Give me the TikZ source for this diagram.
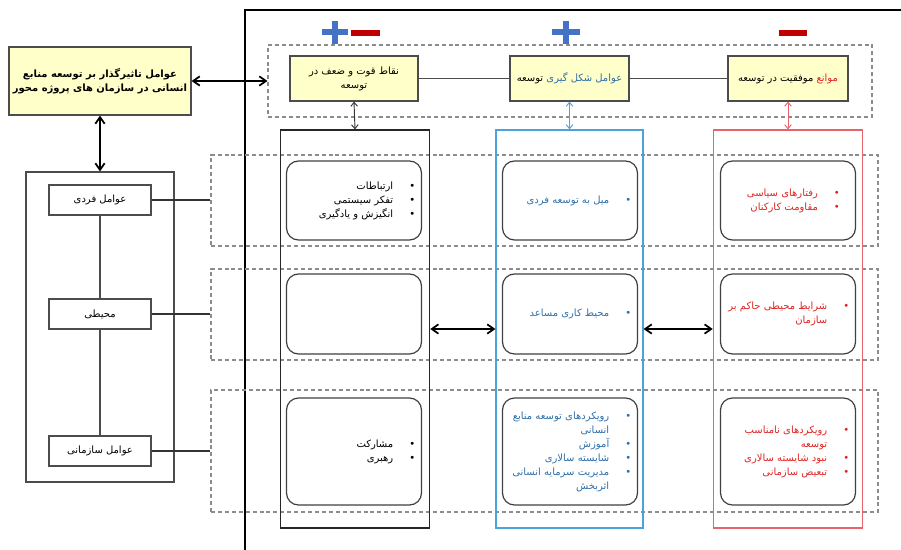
\documentclass[tikz,border=0pt]{standalone}
\usepackage{fontspec}
\newfontfamily\farsi[Script=Arabic]{DejaVu Sans}
\TeXXeTstate=1
\usetikzlibrary{arrows.meta}

\definecolor{boxyellow}{HTML}{FFFFC9}
\definecolor{faBlue}{HTML}{2F6FA8}
\definecolor{faRed}{HTML}{E02424}
\definecolor{colBlue}{HTML}{4BA3DC}
\definecolor{colRed}{HTML}{E8646C}
\definecolor{signBlue}{HTML}{4472C4}
\definecolor{signRed}{HTML}{C00000}
\definecolor{dashGrey}{HTML}{8C8C8C}

\newcommand{\fa}[1]{\beginR#1\endR}

\tikzstyle{topbox} = [draw=black!70, fill=boxyellow, line width=0.9pt,
    rectangle, minimum height=33.75pt, align=center, inner sep=2pt]
\tikzstyle{groupband} = [draw=dashGrey, line width=0.8pt,
    dash pattern=on 3pt off 2.2pt, rectangle]
\tikzstyle{colbox} = [line width=0.9pt, rectangle,
    minimum width=112pt, minimum height=298.5pt]
\tikzstyle{itembox} = [draw=black!75, line width=0.9pt, rectangle,
    rounded corners=9pt, minimum width=101.25pt]
\tikzstyle{factbox} = [draw=black!70, line width=0.9pt, rectangle,
    minimum width=76.5pt, minimum height=22.5pt]
\tikzstyle{itemlist} = [anchor=east, inner sep=0pt]
\tikzstyle{dbl} = [{Straight Barb[length=5pt,width=7pt]}-{Straight Barb[length=5pt,width=7pt]}]
\tikzstyle{thindbl} = [{Straight Barb[length=3pt,width=5pt]}-{Straight Barb[length=3pt,width=5pt]}]

\begin{document}
\begin{tikzpicture}[x=0.75pt, y=-0.75pt,
    every node/.style={font=\farsi\fontsize{7.5}{10.5}\selectfont}]
\useasboundingbox (0,0) rectangle (901,550);

% frame
\draw[line width=0.9pt] (245,550) -- (245,10) -- (901,10);

%------------ Kopfzeile ---------------------
\node[groupband, minimum width=453pt, minimum height=54pt] (topGroup) at (570,81) {};
\node[topbox, minimum width=96pt] (tStrength) at (354,78.5)
    {\fa{نقاط قوت و ضعف در}\\ \fa{توسعه}};
\node[topbox, minimum width=89.25pt] (tForm) at (569.5,78.5)
    {\fa{توسعه}\ {\color{faBlue}\fa{عوامل شکل گیری}}};
\node[topbox, minimum width=90pt] (tBarrier) at (788,78.5)
    {\fa{موفقیت در توسعه}\ {\color{faRed}\fa{موانع}}};
\draw[black!70, line width=0.9pt] (tStrength) -- (tForm);
\draw[black!70, line width=0.9pt] (tForm) -- (tBarrier);

% plus / minus
\draw[signBlue, line width=3.8pt] (322,32) -- (348,32) (335,21) -- (335,44);
\draw[signRed, line width=4.5pt] (351,33) -- (380,33);
\draw[signBlue, line width=3.8pt] (552,32) -- (580,32) (566,21) -- (566,44);
\draw[signRed, line width=4.5pt] (779,33) -- (807,33);

%------------ Zeilen ---------------------
\node[groupband, minimum width=500.25pt, minimum height=68.25pt] (rowIndiv) at (544.5,200.5) {};
\node[groupband, minimum width=500.25pt, minimum height=68.25pt] (rowEnv) at (544.5,314.5) {};
\node[groupband, minimum width=500.25pt, minimum height=91.5pt] (rowOrg) at (544.5,451) {};

%------------ Spalten ---------------------
\node[colbox, draw=black!85] (cStrength) at (355,329) {};
\node[colbox, draw=colBlue, minimum width=110.25pt] (cForm) at (569.5,329) {};
\node[colbox, draw=colRed] (cBarrier) at (788,329) {};
\draw[thindbl, black!80, line width=0.7pt] (tStrength.south) -- (cStrength.north);
\draw[thindbl, colBlue, line width=0.7pt] (tForm.south) -- (cForm.north);
\draw[thindbl, colRed, line width=0.7pt] (tBarrier.south) -- (cBarrier.north);

% Staerken / Schwaechen
\node[itembox, minimum height=59.25pt] (sIndiv) at (354,200.5) {};
\node[itembox, minimum height=60pt] (sEnv) at (354,314) {};
\node[itembox, minimum height=80.25pt] (sOrg) at (354,451.5) {};
\node[itemlist] (sIndivTxt) at ([xshift=-5pt]sIndiv.east)
    {\begin{tabular}{@{}r@{\hspace{12pt}}c@{}}
     \fa{ارتباطات} & \textbullet\\
     \fa{تفکر سیستمی} & \textbullet\\
     \fa{انگیزش و یادگیری} & \textbullet
     \end{tabular}};
\node[itemlist] (sOrgTxt) at ([xshift=-5pt]sOrg.east)
    {\begin{tabular}{@{}r@{\hspace{12pt}}c@{}}
     \fa{مشارکت} & \textbullet\\
     \fa{رهبری} & \textbullet
     \end{tabular}};

% Entstehungsfaktoren
\node[itembox, minimum height=59.25pt] (fIndiv) at (570,200.5) {};
\node[itembox, minimum height=60pt] (fEnv) at (570,314) {};
\node[itembox, minimum height=80.25pt] (fOrg) at (570,451.5) {};
\node[itemlist, text=faBlue] (fIndivTxt) at ([xshift=-5pt]fIndiv.east)
    {\begin{tabular}{@{}r@{\hspace{12pt}}c@{}}
     \fa{میل به توسعه فردی} & \textbullet
     \end{tabular}};
\node[itemlist, text=faBlue] (fEnvTxt) at ([xshift=-5pt]fEnv.east)
    {\begin{tabular}{@{}r@{\hspace{12pt}}c@{}}
     \fa{محیط کاری مساعد} & \textbullet
     \end{tabular}};
\node[itemlist, text=faBlue] (fOrgTxt) at ([xshift=-5pt]fOrg.east)
    {\begin{tabular}{@{}r@{\hspace{12pt}}c@{}}
     \fa{رویکردهای توسعه منابع} & \textbullet\\
     \fa{انسانی} & \\
     \fa{آموزش} & \textbullet\\
     \fa{شایسته سالاری} & \textbullet\\
     \fa{مدیریت سرمایه انسانی} & \textbullet\\
     \fa{اثربخش} &
     \end{tabular}};

% Hindernisse
\node[itembox, minimum height=59.25pt] (bIndiv) at (788,200.5) {};
\node[itembox, minimum height=60pt] (bEnv) at (788,314) {};
\node[itembox, minimum height=80.25pt] (bOrg) at (788,451.5) {};
\node[itemlist, text=faRed] (bIndivTxt) at ([xshift=-12pt]bIndiv.east)
    {\begin{tabular}{@{}r@{\hspace{12pt}}c@{}}
     \fa{رفتارهای سیاسی} & \textbullet\\
     \fa{مقاومت کارکنان} & \textbullet
     \end{tabular}};
\node[itemlist, text=faRed] (bEnvTxt) at ([xshift=-5pt]bEnv.east)
    {\begin{tabular}{@{}r@{\hspace{12pt}}c@{}}
     \fa{شرایط محیطی حاکم بر} & \textbullet\\
     \fa{سازمان} &
     \end{tabular}};
\node[itemlist, text=faRed] (bOrgTxt) at ([xshift=-5pt]bOrg.east)
    {\begin{tabular}{@{}r@{\hspace{12pt}}c@{}}
     \fa{رویکردهای نامناسب} & \textbullet\\
     \fa{توسعه} & \\
     \fa{نبود شایسته سالاری} & \textbullet\\
     \fa{تبعیض سازمانی} & \textbullet
     \end{tabular}};

\draw[dbl, line width=1.3pt] (cStrength.east) -- (cForm.west);
\draw[dbl, line width=1.3pt] (cForm.east) -- (cBarrier.west);

%------------ linke Seite ---------------------
\node[topbox, minimum width=136.5pt, minimum height=51pt] (mainFactors) at (100,81)
    {\bfseries\fa{عوامل تاثیرگذار بر توسعه منابع}\\ \bfseries\fa{انسانی در سازمان های پروژه محور}};
\node[draw=black!70, line width=0.9pt, rectangle, minimum width=111pt,
    minimum height=232.5pt] (leftGroup) at (100,327) {};
\node[factbox] (fIndividual) at (100,200) {\fa{عوامل فردی}};
\node[factbox] (fEnvironment) at (100,314) {\fa{محیطی}};
\node[factbox] (fOrganisational) at (100,451) {\fa{عوامل سازمانی}};
\draw[black!70, line width=0.9pt] (fIndividual) -- (fEnvironment);
\draw[black!70, line width=0.9pt] (fEnvironment) -- (fOrganisational);
\draw[black!80, line width=0.9pt] (fIndividual.east) -- (fIndividual.east -| rowIndiv.west);
\draw[black!80, line width=0.9pt] (fEnvironment.east) -- (fEnvironment.east -| rowEnv.west);
\draw[black!80, line width=0.9pt] (fOrganisational.east) -- (fOrganisational.east -| rowOrg.west);

\draw[dbl, line width=1.3pt] (mainFactors.east) -- (topGroup.west);
\draw[dbl, line width=1.3pt] (mainFactors.south) -- (leftGroup.north);
\end{tikzpicture}
\end{document}
